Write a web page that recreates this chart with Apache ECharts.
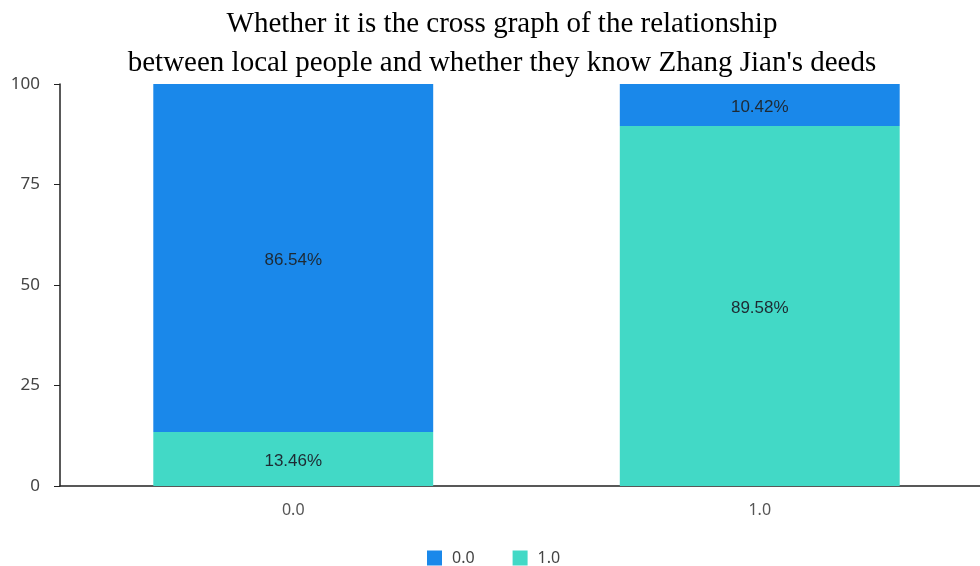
<!DOCTYPE html>
<html>
<head>
<meta charset="utf-8">
<script src="https://cdn.jsdelivr.net/npm/echarts@6/dist/echarts.min.js"></script>
<style>html,body{margin:0;padding:0;background:#fff;}#main{width:980px;height:566px;}</style>
</head>
<body>
<div id="main"></div>
<script>
var categories = ['0.0', '1.0'];
var seriesNames = ['0.0', '1.0'];
var values00 = [86.54, 10.42];
var values10 = [13.46, 89.58];
var yTicks = [0, 25, 50, 75, 100];

var chart = echarts.init(document.getElementById('main'));
chart.setOption({
  animation: false,
  title: {
    text: "Whether it is the cross graph of the relationship\nbetween local people and whether they know Zhang Jian's deeds",
    left: 497,
    textAlign: 'center',
    top: 0,
    textStyle: { fontFamily: 'Liberation Serif, Times New Roman, serif', fontSize: 29, fontWeight: 'normal', color: '#000', lineHeight: 39 }
  },
  legend: {
    data: seriesNames,
    top: 550,
    left: 427,
    padding: 0,
    icon: 'rect',
    itemWidth: 15,
    itemHeight: 15,
    itemGap: 38,
    textStyle: { fontSize: 16, color: '#444', fontFamily: 'Noto Sans, sans-serif', padding: [0, 0, 0, 5] }
  },
  grid: { left: 60, right: -13, top: 84, bottom: 80, outerBoundsMode: 'none', containLabel: false },
  xAxis: {
    type: 'category',
    data: categories,
    axisLine: { lineStyle: { color: '#222', width: 1.5 } },
    axisTick: { show: false },
    axisLabel: { fontSize: 16, color: '#555', margin: 16, fontFamily: 'Noto Sans, sans-serif' }
  },
  yAxis: {
    type: 'value',
    min: yTicks[0],
    max: yTicks[yTicks.length - 1],
    interval: 25,
    axisLine: { show: true, lineStyle: { color: '#222', width: 1.5 } },
    axisTick: { show: true, length: 6, lineStyle: { color: '#222' } },
    splitLine: { show: false },
    axisLabel: { fontSize: 17, color: '#444', margin: 20, fontFamily: 'Noto Sans, sans-serif' }
  },
  series: [
    {
      name: '1.0', type: 'bar', stack: 'a', data: values10, barWidth: '60%',
      itemStyle: { color: '#42d9c6' },
      label: { show: true, position: 'inside', offset: [0, 2], color: '#1e2a33', fontSize: 17, fontFamily: 'Liberation Sans, Arial, sans-serif',
        formatter: function (p) { return p.value.toFixed(2) + '%'; } }
    },
    {
      name: '0.0', type: 'bar', stack: 'a', data: values00, barWidth: '60%',
      itemStyle: { color: '#1a88ea' },
      label: { show: true, position: 'inside', offset: [0, 2], color: '#1e2a33', fontSize: 17, fontFamily: 'Liberation Sans, Arial, sans-serif',
        formatter: function (p) { return p.value.toFixed(2) + '%'; } }
    }
  ]
});
</script>
</body>
</html>
